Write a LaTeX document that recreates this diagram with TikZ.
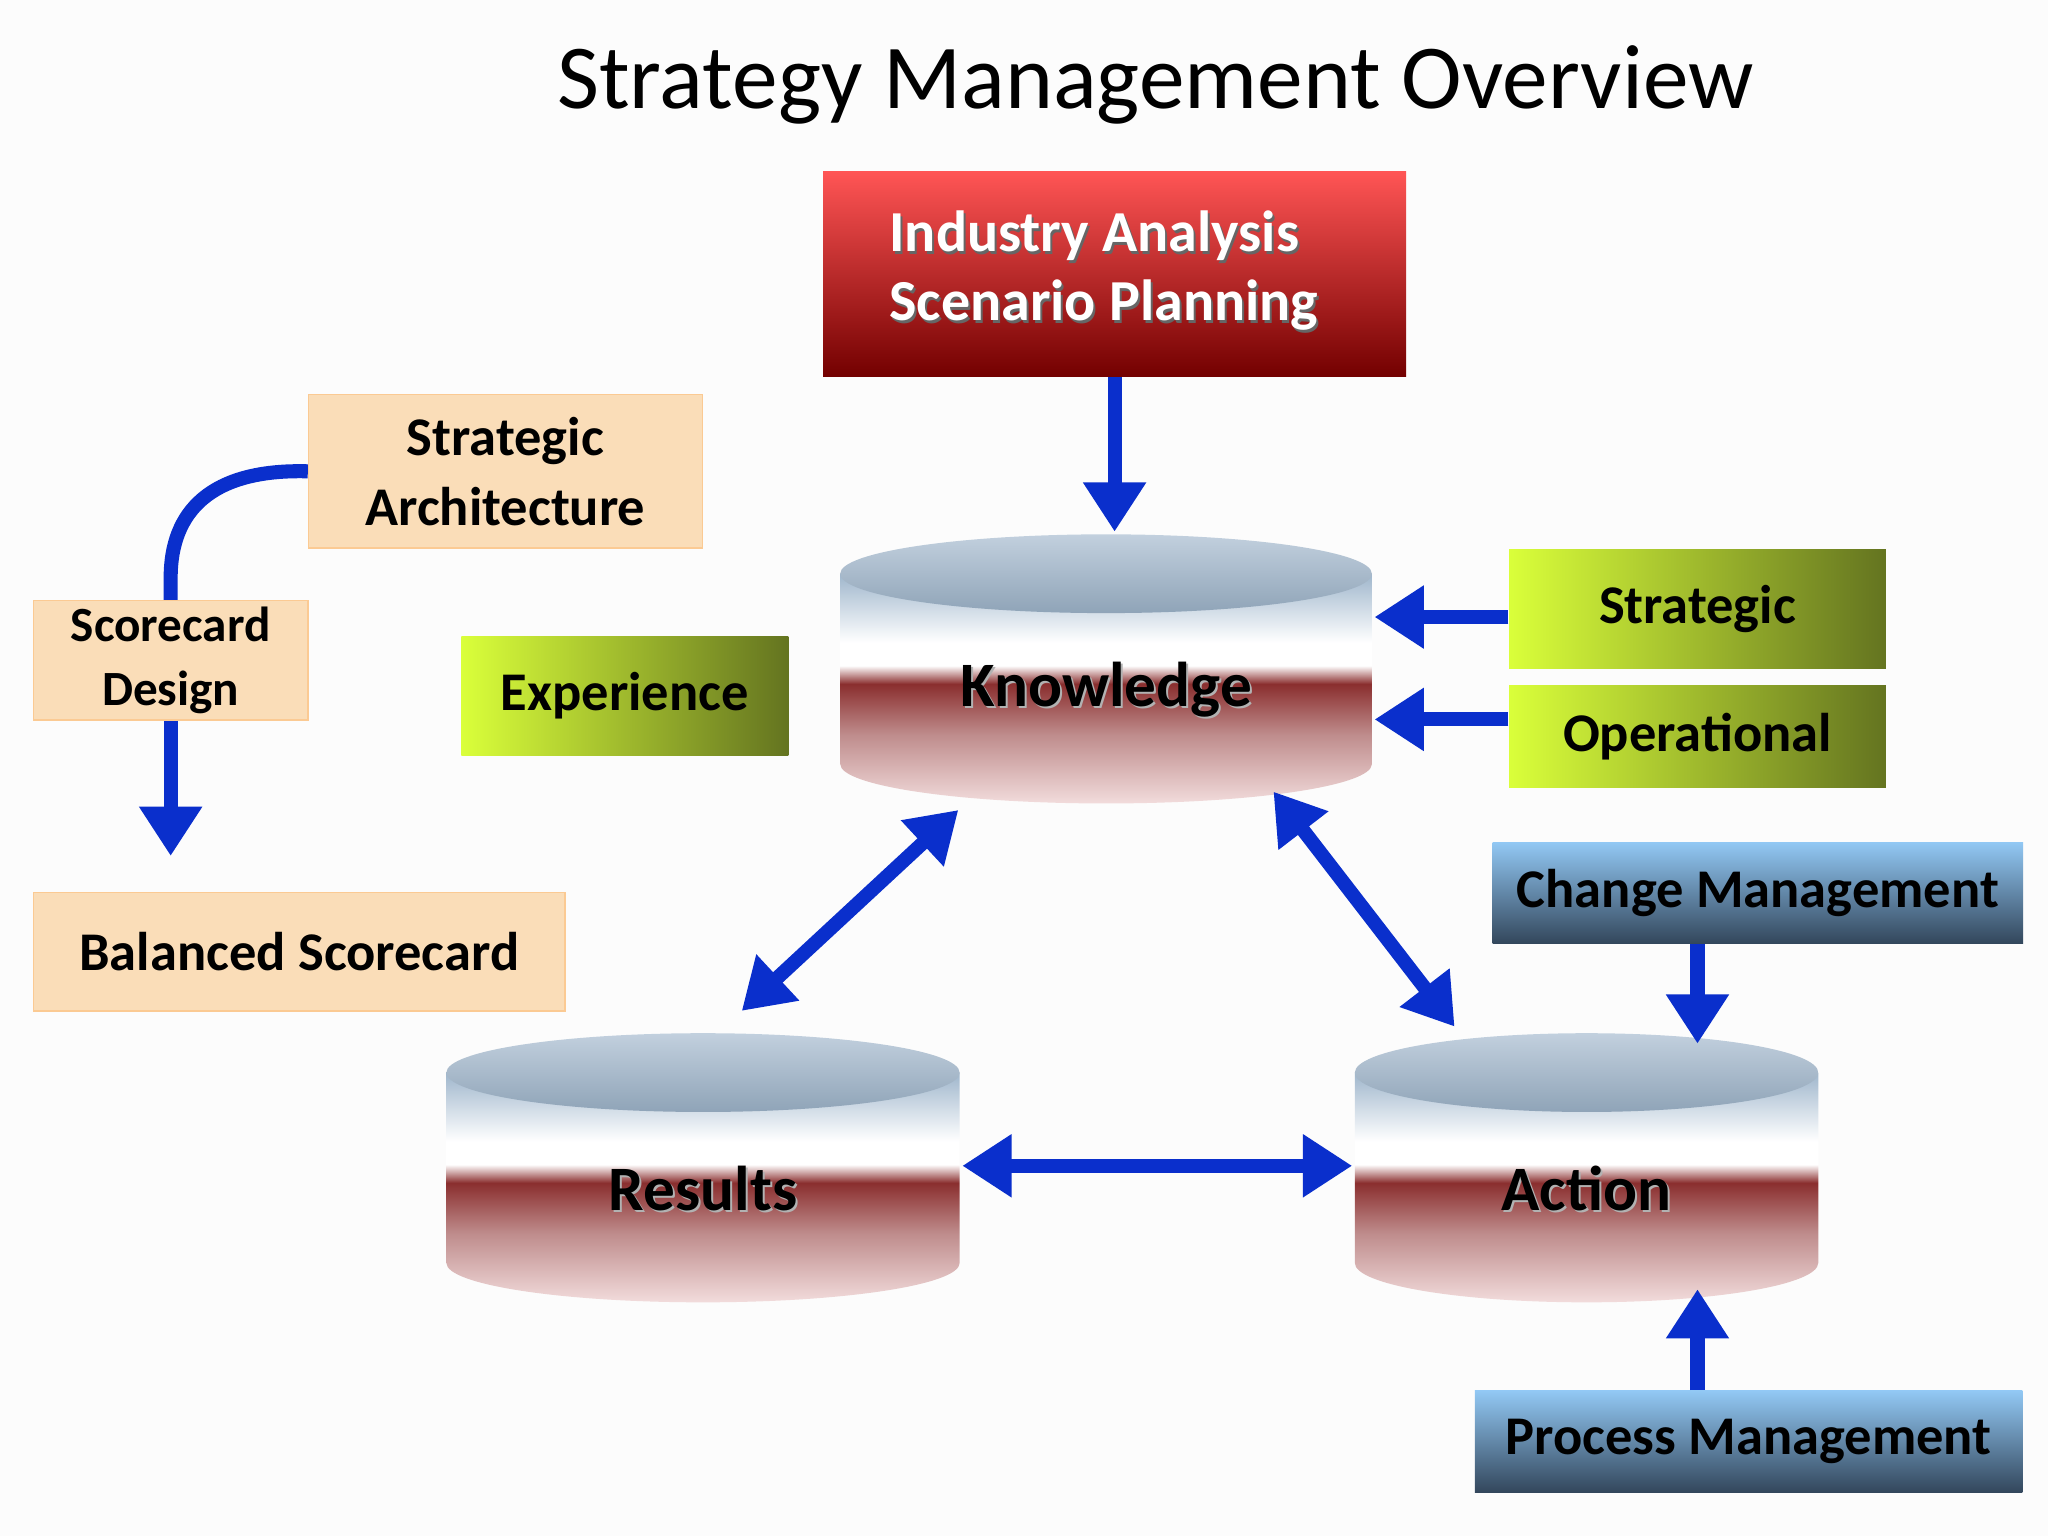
\documentclass[tikz,border=0pt]{standalone}
\usepackage{fontspec}
\setmainfont{Carlito}
\usetikzlibrary{arrows.meta}
\definecolor{arr}{HTML}{0A2FCC}
\definecolor{peach}{HTML}{FADDB8}
\definecolor{gl}{HTML}{DAFF3A}
\definecolor{gr}{HTML}{647420}
\definecolor{bl}{HTML}{92C8F4}
\definecolor{bd}{HTML}{33475C}
\definecolor{ct}{HTML}{9FB6CC}
\definecolor{ce}{HTML}{C2D0DE}
\definecolor{cr}{HTML}{8A2E2E}
\definecolor{cp}{HTML}{F2DCDC}
\pgfdeclareverticalshading{cylbody}{100bp}{color(0bp)=(cp); color(25bp)=(cp); color(40bp)=(cr!55!white); color(51bp)=(cr); color(55bp)=(white); color(60bp)=(white); color(75bp)=(ct); color(100bp)=(ct)}
\tikzset{
 lbl/.style={font=\bfseries\fontsize{15.5}{20}\selectfont},
 pbox/.style={fill=peach,draw=peach!80!orange,lbl,align=center,inner sep=0pt},
 gbox/.style={left color=gl,right color=gr,lbl,inner sep=0pt},
 bbox/.style={top color=bl,bottom color=bd,lbl,inner sep=0pt},
 ar/.style={draw=arr,line width=4pt,-{Triangle[length=14pt,width=17pt]}},
 dar/.style={ar,{Triangle[length=14pt,width=17pt]}-{Triangle[length=14pt,width=17pt]}},
}
\newcommand\mycyl[6]{% name, x1, x2, ytop, ybottom, label
 \pgfmathsetmacro\cx{(#2+#3)/2}\pgfmathsetmacro\rx{(#3-#2)/2}
 \shade[shading=cylbody] (#2,#4) -- (#2,#5) arc[start angle=180,end angle=360,x radius=\rx,y radius=-30] -- (#3,#4) -- cycle;
 \shade[top color=ce, bottom color=ct!90!black] (\cx,#4) ellipse[x radius=\rx,y radius=30];
 \node[font=\bfseries\fontsize{18}{22}\selectfont,text=gray!60] at (\cx+1.5,#5-57+1.5) {#6};
 \node[font=\bfseries\fontsize{18}{22}\selectfont] (#1) at (\cx,#5-57) {#6};
}
\begin{document}
\begin{tikzpicture}[x=0.013128cm,y=-0.013128cm]
\useasboundingbox[fill=white!98!gray] (0,0) rectangle (1560,1170);
\node[font=\fontsize{26}{30}\selectfont] (title) at (880,65) {Strategy Management Overview};
% red box
\node[top color=red!65!white!95!red,bottom color=red!45!black,minimum width=444*0.013128cm,minimum height=156*0.013128cm,inner sep=0pt] (ind) at (849,209) {};
\node[text=black!60,align=left,anchor=west,font=\bfseries\fontsize{16.5}{19.5}\selectfont] at (669.5,208.5) {Industry Analysis\\Scenario Planning};
\node[text=white,align=left,anchor=west,font=\bfseries\fontsize{16.5}{19.5}\selectfont] (indt) at (668,206) {Industry Analysis\\Scenario Planning};
% cylinders
\mycyl{know}{640}{1045}{437}{582}{Knowledge}
\mycyl{res}{340}{731}{817}{962}{Results}
\mycyl{act}{1032}{1385}{817}{962}{Action}
% boxes
\node[pbox,minimum width=300*0.013128cm,minimum height=117*0.013128cm] (sa) at (385,359) {Strategic\\Architecture};
\node[pbox,minimum width=209*0.013128cm,minimum height=91*0.013128cm,font=\bfseries\fontsize{14}{18}\selectfont] (sd) at (130,503) {Scorecard\\Design};
\node[pbox,minimum width=405*0.013128cm,minimum height=90*0.013128cm] (bs) at (228,725) {Balanced Scorecard};
\node[gbox,minimum width=249*0.013128cm,minimum height=91*0.013128cm] (exp) at (476,530) {Experience};
\node[gbox,minimum width=287*0.013128cm,minimum height=91*0.013128cm] (str) at (1293,464) {Strategic};
\node[gbox,minimum width=287*0.013128cm,minimum height=78*0.013128cm] (op) at (1293,561) {Operational};
\node[bbox,minimum width=404*0.013128cm,minimum height=77*0.013128cm] (cm) at (1339,680) {Change Management};
\node[bbox,minimum width=417*0.013128cm,minimum height=77*0.013128cm] (pm) at (1332,1098) {Process Management};
% arrows
\coordinate (kt) at (849,405);
\draw[ar] (ind.south) -- (kt);
\coordinate (ks) at (1047,470); \coordinate (ko) at (1047,548);
\draw[ar] (str.west |- ks) -- (ks);
\draw[ar] (op.west |- ko) -- (ko);
\coordinate (k1) at (730,617); \coordinate (r1) at (565,770);
\draw[dar] (k1) -- (r1);
\coordinate (k2) at (970,603); \coordinate (a1) at (1108,782);
\draw[dar] (k2) -- (a1);
\coordinate (r2) at (733,888); \coordinate (a2) at (1030,888);
\draw[dar] (r2) -- (a2);
\coordinate (at) at (1293,795); \coordinate (ab) at (1293,982);
\draw[ar] (cm.south -| at) -- (at);
\draw[ar] (pm.north -| ab) -- (ab);
\draw[draw=arr,line width=4pt] (sa.west) .. controls (160,357) and (130,390) .. (130,440) -- (sd.north);
\coordinate (sdb) at (130,652);
\draw[ar] (sd.south) -- (sdb);
\end{tikzpicture}
\end{document}
